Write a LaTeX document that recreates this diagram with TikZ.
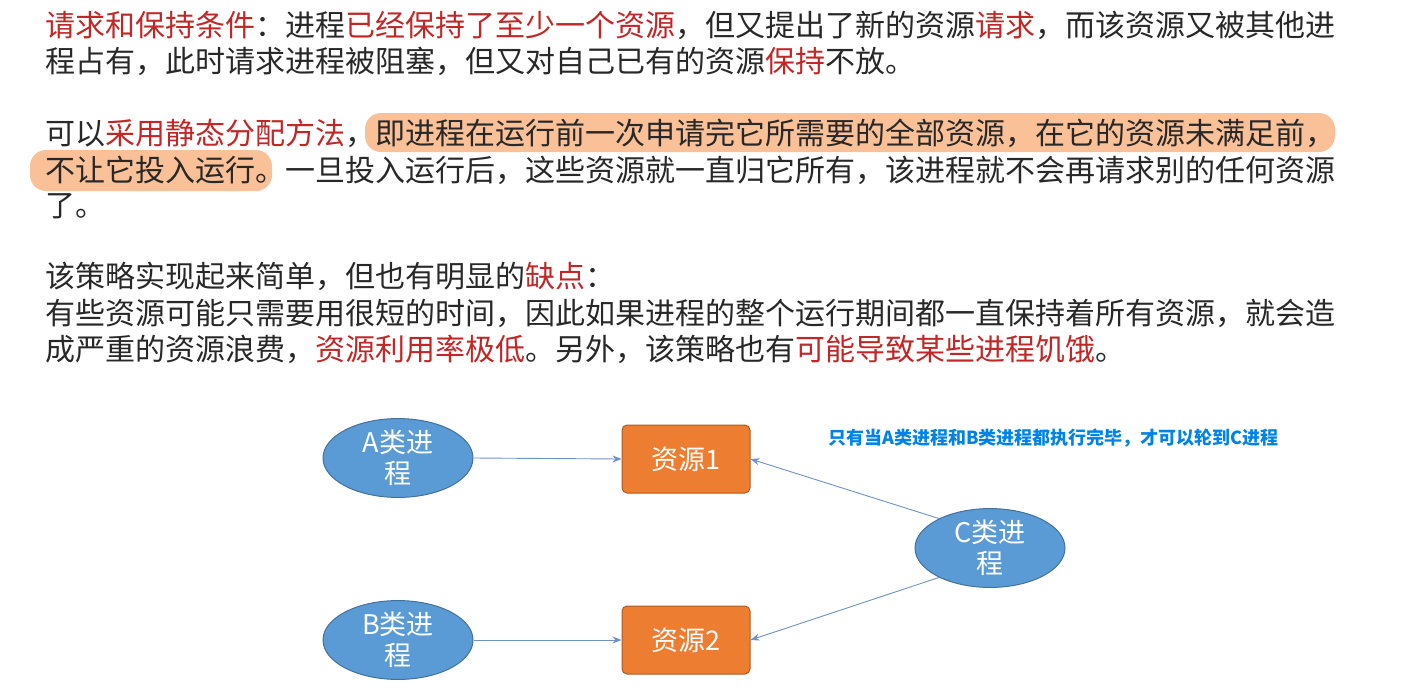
\documentclass[tikz,border=0pt]{standalone}
\usepackage{fontspec}
\setmainfont{Noto Sans CJK SC}
\newfontfamily\cjk{Noto Sans CJK SC}
\usetikzlibrary{arrows.meta}
\definecolor{txt}{RGB}{40,40,40}
\definecolor{rd}{RGB}{192,40,40}
\definecolor{hl}{RGB}{250,192,152}
\definecolor{ellf}{RGB}{91,155,213}
\definecolor{elld}{RGB}{65,113,156}
\definecolor{boxf}{RGB}{237,125,49}
\definecolor{boxd}{RGB}{174,90,33}
\definecolor{arr}{RGB}{110,145,200}
\definecolor{note}{RGB}{0,130,230}
\newcommand{\R}[1]{\textcolor{rd}{#1}}
\begin{document}
\begin{tikzpicture}[x=1pt,y=-1pt,
  para/.style={anchor=west,inner sep=0pt,text=txt,font=\fontsize{30}{32}\selectfont},
  proc/.style={ellipse,draw=elld,fill=ellf,line width=1pt,minimum width=150pt,minimum height=76pt,text=white,align=center,inner sep=0pt,font=\fontsize{27}{31}\selectfont},
  res/.style={draw=boxd,fill=boxf,rounded corners=5pt,line width=1pt,minimum width=128pt,minimum height=68pt,text=white,inner sep=0pt,font=\fontsize{27}{31}\selectfont},
  conn/.style={draw=arr,line width=0.9pt,-{Stealth[length=9pt,width=7pt]}}]
\useasboundingbox (0,0) rectangle (1401,694);
\usetikzlibrary{shapes.geometric}
% highlights
\fill[hl,rounded corners=16pt] (365,113) rectangle (1335,152);
\fill[hl,rounded corners=16pt] (30,150) rectangle (272,191);
\node[para] (l1) at (45,25) {\R{请求和保持条件}：进程\R{已经保持了至少一个资源}，但又提出了新的资源\R{请求}，而该资源又被其他进};
\node[para] (l2) at (45,61) {程占有，此时请求进程被阻塞，但又对自己已有的资源\R{保持}不放。};
\node[para] (l3) at (45,133) {可以\R{采用静态分配方法}，即进程在运行前一次申请完它所需要的全部资源，在它的资源未满足前，};
\node[para] (l4) at (45,170) {不让它投入运行。一旦投入运行后，这些资源就一直归它所有，该进程就不会再请求别的任何资源};
\node[para] (l5) at (45,206) {了。};
\node[para] (l6) at (45,276) {该策略实现起来简单，但也有明显的\R{缺点}：};
\node[para] (l7) at (45,313) {有些资源可能只需要用很短的时间，因此如果进程的整个运行期间都一直保持着所有资源，就会造};
\node[para] (l8) at (45,349) {成严重的资源浪费，\R{资源利用率极低}。另外，该策略也有\R{可能导致某些进程饥饿}。};
% diagram
\node[proc] (A) at (398,458) {A类进\\程};
\node[proc] (B) at (398,640) {B类进\\程};
\node[proc] (C) at (990,548) {C类进\\程};
\node[res] (r1) at (686,459) {资源1};
\node[res] (r2) at (686,640) {资源2};
\node[anchor=west,inner sep=0pt,text=note,font=\fontsize{18}{20}\selectfont\bfseries] (n) at (828,438) {只有当A类进程和B类进程都执行完毕，才可以轮到C进程};
\draw[conn] (A.east) -- (r1.west);
\draw[conn] (B.east) -- (r2.west);
\draw[conn] (C.150) -- (r1.east);
\draw[conn] (C.210) -- (r2.east);
\end{tikzpicture}
\end{document}
